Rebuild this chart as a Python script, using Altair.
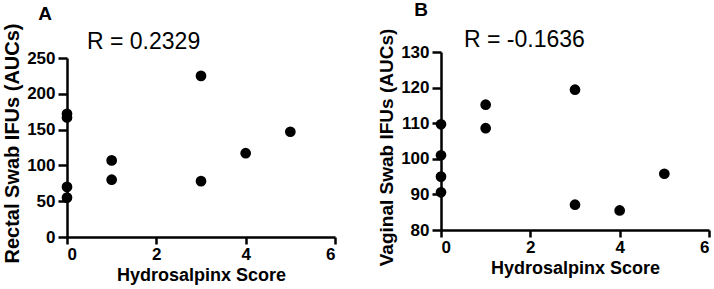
import altair as alt
import pandas as pd

# Panel A: rectal swab
score_a = [0, 0, 0, 0, 1, 1, 3, 3, 4, 5]
rectal_auc = [172, 167, 70, 55, 107, 80, 225, 78, 117, 147]
# Panel B: vaginal swab
score_b = [0, 0, 0, 0, 1, 1, 3, 3, 4, 5]
vaginal_auc = [109.7, 101.0, 95.0, 90.6, 115.2, 108.6, 119.4, 87.1, 85.5, 95.8]

x_ticks = [0, 2, 4, 6]
y_ticks_a = [0, 50, 100, 150, 200, 250]
y_ticks_b = [80, 90, 100, 110, 120, 130]

FONT = "Liberation Sans"

df_a = pd.DataFrame({"score": score_a, "auc": rectal_auc})
df_b = pd.DataFrame({"score": score_b, "auc": vaginal_auc})

axis_style = dict(
    grid=False, domainColor="black", domainWidth=2.5, tickColor="black", tickWidth=2.5,
    labelFont=FONT, labelFontWeight="bold", labelFontSize=17, labelColor="black",
    titleFont=FONT, titleFontWeight="bold", titleColor="black",
)


def panel(df, y_title, y_title_size, y_title_pos, y_dom, y_ticks, y_range, x_offset,
          letter, r_text, lpos, rpos):
    pts = alt.Chart(df).mark_circle(size=115, color="black", opacity=1).encode(
        x=alt.X("score:Q", scale=alt.Scale(domain=[0, 6], nice=False),
                axis=alt.Axis(values=x_ticks, title="Hydrosalpinx Score", offset=x_offset,
                              tickSize=7, labelPadding=2, titlePadding=4, titleFontSize=18,
                              **axis_style)),
        y=alt.Y("auc:Q", scale=alt.Scale(domain=y_dom, range=y_range, nice=False, zero=False),
                axis=alt.Axis(values=y_ticks, title=y_title, tickSize=9, labelPadding=3,
                              titlePadding=4, titleFontSize=y_title_size, titleY=y_title_pos,
                              **axis_style)),
    )
    lab = alt.Chart(pd.DataFrame({"t": [letter]})).mark_text(
        font=FONT, fontWeight="bold", fontSize=19, align="center", baseline="alphabetic",
        color="black").encode(text="t:N", x=alt.value(lpos[0]), y=alt.value(lpos[1]))
    rt = alt.Chart(pd.DataFrame({"t": [r_text]})).mark_text(
        font=FONT, fontSize=23, align="left", baseline="alphabetic",
        color="black").encode(text="t:N", x=alt.value(rpos[0]), y=alt.value(rpos[1]))
    return alt.layer(pts, lab, rt).properties(width=268, height=178)


a = panel(df_a, "Rectal Swab IFUs (AUCs)", 20, 91, [0, 250], y_ticks_a, [185, 6], 7,
          "A", "R = 0.2329", (-22, -32), (20, -3))
b = panel(df_b, "Vaginal Swab IFUs (AUCs)", 19, 95, [80, 130], y_ticks_b, [178, 0], 0,
          "B", "R = -0.1636", (-20, -36), (23, -5))

chart = alt.hconcat(a, b, spacing=40).properties(
    padding={"left": 2, "top": 1, "right": 2, "bottom": 2}
).configure_view(stroke=None)

chart.save("out.html", embed_options={"renderer": "svg", "actions": False})
